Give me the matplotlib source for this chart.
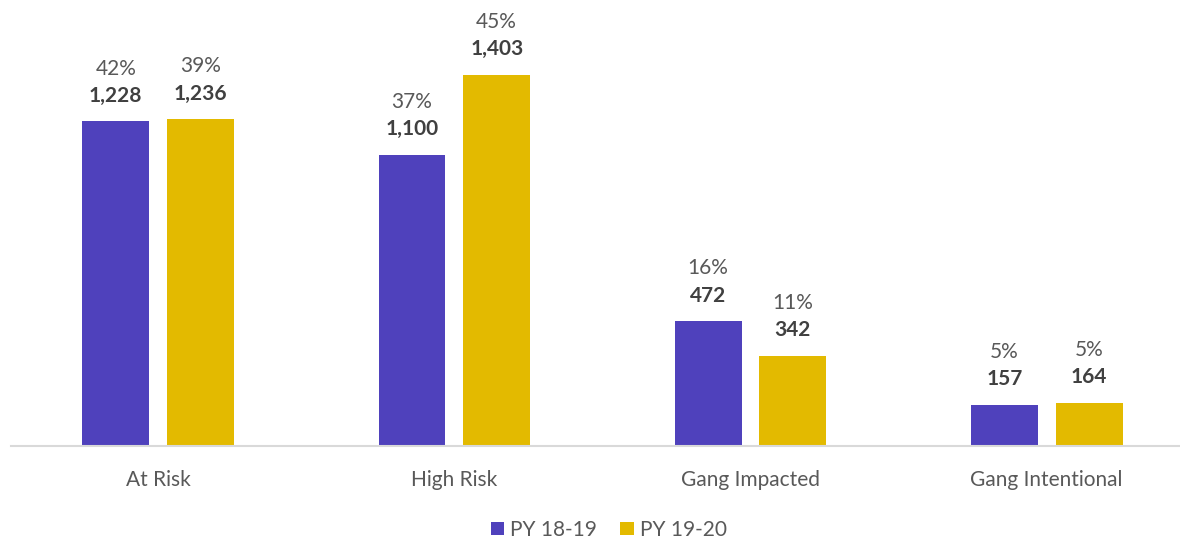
import numpy as np
import matplotlib.pyplot as plt

plt.rcParams['font.family'] = ['Lato', 'DejaVu Sans']

categories = ['At Risk', 'High Risk', 'Gang Impacted', 'Gang Intentional']
py1819 = [1228, 1100, 472, 157]
py1920 = [1236, 1403, 342, 164]
pct1819 = ['42%', '37%', '16%', '5%']
pct1920 = ['39%', '45%', '11%', '5%']
series_names = ['PY 18-19', 'PY 19-20']

purple = '#4F41BC'
gold = '#E3BA00'

fig = plt.figure(figsize=(11.8, 5.39), dpi=100)
ax = fig.add_axes([0.0093, 0.1725, 0.9907, 0.809])

x = np.arange(len(categories))
w = 0.226
off = 0.143
b1 = ax.bar(x - off, py1819, w, color=purple, label=series_names[0])
b2 = ax.bar(x + off, py1920, w, color=gold, label=series_names[1])

# value (bold) and share labels above each bar
for bars, vals, pcts in [(b1, py1819, pct1819), (b2, py1920, pct1920)]:
    for b, v, p in zip(bars, vals, pcts):
        cx = b.get_x() + b.get_width() / 2
        ax.annotate(f'{v:,}', (cx, v), xytext=(0, 18.5), textcoords='offset points',
                    ha='center', va='center', fontsize=15, fontweight='bold', color='#404040')
        ax.annotate(p, (cx, v), xytext=(0, 38), textcoords='offset points',
                    ha='center', va='center', fontsize=15, color='#595959')

ax.set_xlim(-0.497, 3.45)
ax.set_ylim(0, 1649)
ax.set_xticks(x)
ax.set_xticklabels(categories, fontsize=15, color='#595959')
ax.tick_params(axis='x', length=0, pad=17)
ax.set_yticks([])
for s in ['top', 'right', 'left']:
    ax.spines[s].set_visible(False)
ax.spines['bottom'].set_color('#D9D9D9')
ax.spines['bottom'].set_linewidth(1.5)

leg = fig.legend(loc='center', bbox_to_anchor=(0.516, 0.017), ncol=2, frameon=False,
                 fontsize=15, handlelength=0.65, handleheight=0.65, handletextpad=0.3,
                 columnspacing=1.1)
for t in leg.get_texts():
    t.set_color('#595959')

fig.savefig('out.png', dpi=100)
